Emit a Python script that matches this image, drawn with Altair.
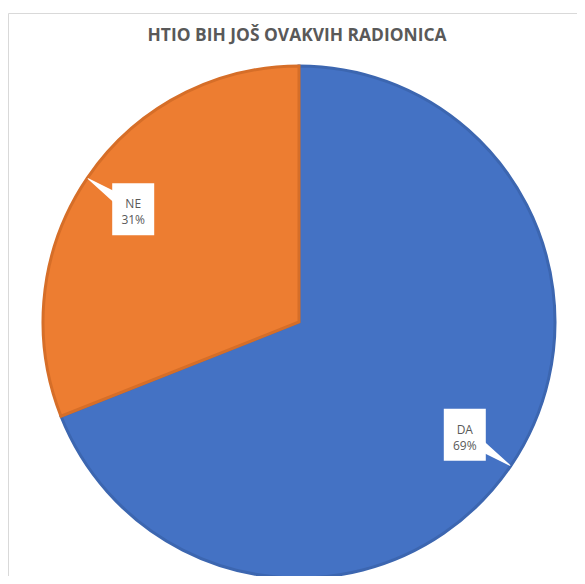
import altair as alt
import pandas as pd

title_text = ["HTIO BIH JOŠ OVAKVIH RADIONICA"]
categories = ["DA", "NE"]
shares = [69, 31]
fill_colors = ["#4472C4", "#ED7D31"]
edge_colors = ["#3C66B0", "#D66E28"]

W, H = 569, 568
CX, CY, R = 291, 314, 257
LR = 0.78
BW, BH = 21, 26

df = pd.DataFrame({"cat": categories, "value": shares, "idx": list(range(len(categories)))})
ends = df.merge(pd.DataFrame({"end": [0, 1]}), how="cross")


def with_geometry(chart, group=None):
    kw = {"groupby": [group]} if group else {}
    return chart.transform_joinaggregate(total="sum(value)", **kw).transform_window(
        cum="sum(value)", sort=[alt.SortField("idx")], frame=[None, 0], **kw
    ).transform_calculate(
        mid="(datum.cum - datum.value/2)/datum.total*2*PI",
        pct="round(datum.value/datum.total*100) + '%'",
    ).transform_calculate(
        bx=f"{CX} + {LR * R}*sin(datum.mid)",
        by=f"{CY} - {LR * R}*cos(datum.mid)",
        label="datum.cat + '\\n' + datum.pct",
    ).transform_calculate(
        bx0=f"datum.bx - {BW}", bx1=f"datum.bx + {BW}",
        by0=f"datum.by - {BH}", by1=f"datum.by + {BH}",
    )


border = alt.Chart(pd.DataFrame({"a": [0]})).mark_rect(
    fill="white", stroke="#d9d9d9", strokeWidth=1
).encode(x=alt.value(0.5), y=alt.value(5.5), x2=alt.value(W + 50), y2=alt.value(H + 50))

pie = alt.Chart(df).mark_arc(radius=R - 1, strokeWidth=3).encode(
    theta=alt.Theta("value:Q", stack=True),
    order=alt.Order("idx:Q"),
    fill=alt.Fill("cat:N", scale=alt.Scale(domain=categories, range=fill_colors), legend=None),
    stroke=alt.Stroke("cat:N", scale=alt.Scale(domain=categories, range=edge_colors), legend=None),
    x=alt.value(CX),
    y=alt.value(CY),
)

pointer = with_geometry(alt.Chart(ends), "end").transform_calculate(
    rr=f"datum.end == 1 ? {R - 2} : {LR * R}",
    sz="datum.end == 1 ? 0 : 16",
).transform_calculate(
    px=f"{CX} + datum.rr*sin(datum.mid)",
    py=f"{CY} - datum.rr*cos(datum.mid)",
).mark_trail(color="white").encode(
    x=alt.X("px:Q", scale=None, axis=None),
    y=alt.Y("py:Q", scale=None, axis=None),
    size=alt.Size("sz:Q", scale=None, legend=None),
    detail="cat:N",
    order="end:Q",
)

box = with_geometry(alt.Chart(df)).mark_rect(fill="white").encode(
    x=alt.X("bx0:Q", scale=None, axis=None),
    x2="bx1:Q",
    y=alt.Y("by0:Q", scale=None, axis=None),
    y2="by1:Q",
)

labels = with_geometry(alt.Chart(df)).mark_text(
    lineBreak="\n", fontSize=12, color="#595959", font="Open Sans", baseline="middle",
    lineHeight=16, dy=-5
).encode(
    x=alt.X("bx:Q", scale=None, axis=None),
    y=alt.Y("by:Q", scale=None, axis=None),
    text="label:N",
)

title = alt.Chart(pd.DataFrame({"t": title_text})).mark_text(
    fontSize=17.4, fontWeight="bold", color="#595959", font="Open Sans", baseline="middle"
).encode(x=alt.value(289), y=alt.value(28), text="t:N")

chart = alt.layer(border, pie, pointer, box, labels, title).properties(
    width=W, height=H, autosize=alt.AutoSizeParams(type="none"), padding=0, background="white"
).configure_view(stroke=None)

chart.save("out.html", embed_options={"renderer": "svg", "actions": False})
